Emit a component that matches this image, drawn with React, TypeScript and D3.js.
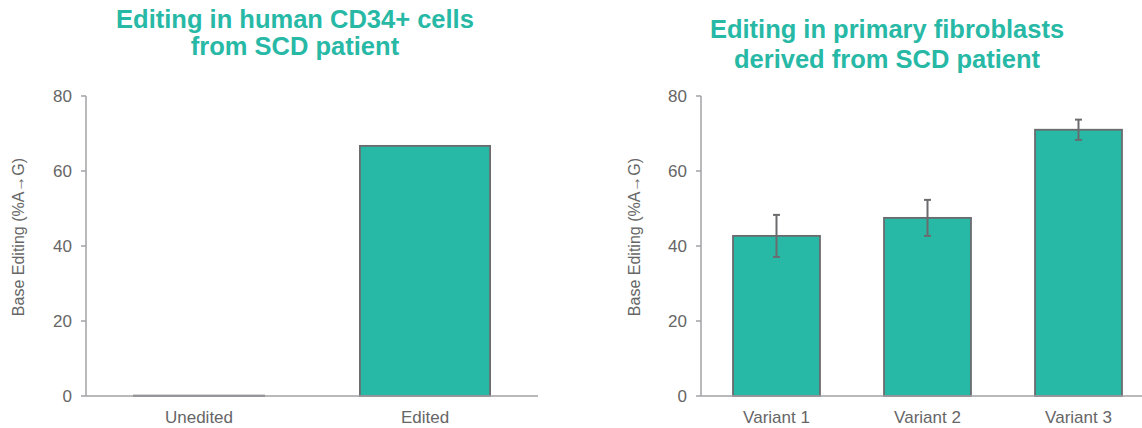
import { useEffect, useRef } from 'react';
import * as d3 from 'd3';

// Left panel: CD34+ cells
const leftCategories = ['Unedited', 'Edited'];
const leftValues = [0.1, 66.7];

// Right panel: primary fibroblasts
const rightCategories = ['Variant 1', 'Variant 2', 'Variant 3'];
const rightValues = [42.7, 47.5, 71.0];
const rightErrors = [5.6, 4.8, 2.7];

const yTicks = [0, 20, 40, 60, 80];
const leftTitle = ['Editing in human CD34+ cells', 'from SCD patient'];
const rightTitle = ['Editing in primary fibroblasts', 'derived from SCD patient'];
const yLabel = 'Base Editing (%A\u2192G)';

const TEAL = '#27b9a6';
const AXIS = '#a2a2a6';
const OUTLINE = '#6b6b6e';
const TEXT = '#666666';
const FONT = '"Liberation Sans", Arial, Helvetica, sans-serif';

export default function App() {
  const ref = useRef<SVGSVGElement>(null);

  useEffect(() => {
    document.body.style.margin = '0';
    if (!ref.current) return;
    const svg = d3.select(ref.current);
    svg.selectAll('*').remove();

    const drawPanel = (
      opts: {
        axisX: number;
        rangeEnd: number;
        baseEnd: number;
        cats: string[];
        vals: number[];
        errs?: number[];
        title: string[];
        titleX: number;
        titleY: number;
        titleGap: number;
        labelX: number;
      }
    ) => {
      const g = svg.append('g');
      const y = d3.scaleLinear().domain([0, 80]).range([396, 96]);
      const x = d3.scaleBand<string>()
        .domain(opts.cats)
        .range([opts.axisX, opts.rangeEnd])
        .paddingInner(0.424)
        .paddingOuter(0.212);

      // Title
      const t = g.append('text')
        .attr('x', opts.titleX)
        .attr('y', opts.titleY)
        .attr('text-anchor', 'middle')
        .attr('font-family', FONT)
        .attr('font-weight', 'bold')
        .attr('font-size', 25.5)
        .attr('fill', TEAL);
      opts.title.forEach((line, i) => {
        t.append('tspan')
          .attr('x', opts.titleX)
          .attr('dy', i === 0 ? 0 : opts.titleGap)
          .text(line);
      });

      // Bars
      g.selectAll('rect.bar')
        .data(opts.vals)
        .enter()
        .append('rect')
        .attr('class', 'bar')
        .attr('x', (_, i) => x(opts.cats[i]) as number)
        .attr('width', x.bandwidth())
        .attr('y', d => y(d))
        .attr('height', d => y(0) - y(d))
        .attr('fill', TEAL)
        .attr('stroke', OUTLINE)
        .attr('stroke-width', 1.8);

      // Error bars
      if (opts.errs) {
        const errs = opts.errs;
        opts.vals.forEach((v, i) => {
          const cx = (x(opts.cats[i]) as number) + x.bandwidth() / 2;
          const top = y(v + errs[i]);
          const bot = y(v - errs[i]);
          g.append('line')
            .attr('x1', cx).attr('x2', cx)
            .attr('y1', top).attr('y2', bot)
            .attr('stroke', OUTLINE).attr('stroke-width', 2);
          [top, bot].forEach(yy => {
            g.append('line')
              .attr('x1', cx - 3.5).attr('x2', cx + 3.5)
              .attr('y1', yy).attr('y2', yy)
              .attr('stroke', OUTLINE).attr('stroke-width', 2);
          });
        });
      }

      // Baseline
      g.append('line')
        .attr('x1', opts.axisX).attr('x2', opts.baseEnd)
        .attr('y1', y(0)).attr('y2', y(0))
        .attr('stroke', AXIS).attr('stroke-width', 1.5);

      // Y axis
      g.append('line')
        .attr('x1', opts.axisX).attr('x2', opts.axisX)
        .attr('y1', y(80)).attr('y2', y(0))
        .attr('stroke', AXIS).attr('stroke-width', 1.5);

      yTicks.forEach(tk => {
        g.append('line')
          .attr('x1', opts.axisX - 5).attr('x2', opts.axisX)
          .attr('y1', y(tk)).attr('y2', y(tk))
          .attr('stroke', AXIS).attr('stroke-width', 1.5);
        g.append('text')
          .attr('x', opts.axisX - 14)
          .attr('y', y(tk))
          .attr('dy', '0.36em')
          .attr('text-anchor', 'end')
          .attr('font-family', FONT)
          .attr('font-size', 17)
          .attr('fill', TEXT)
          .text(tk);
      });

      // X labels
      opts.cats.forEach(c => {
        g.append('text')
          .attr('x', (x(c) as number) + x.bandwidth() / 2)
          .attr('y', 423)
          .attr('text-anchor', 'middle')
          .attr('font-family', FONT)
          .attr('font-size', 17)
          .attr('fill', TEXT)
          .text(c);
      });

      // Y label
      g.append('text')
        .attr('transform', `translate(${opts.labelX},237) rotate(-90)`)
        .attr('text-anchor', 'middle')
        .attr('font-family', FONT)
        .attr('font-size', 16)
        .attr('fill', TEXT)
        .text(yLabel);
    };

    drawPanel({
      axisX: 86,
      rangeEnd: 538,
      baseEnd: 538,
      cats: leftCategories,
      vals: leftValues,
      title: leftTitle,
      titleX: 295,
      titleY: 28,
      titleGap: 27,
      labelX: 24,
    });

    drawPanel({
      axisX: 701,
      rangeEnd: 1154,
      baseEnd: 1154,
      cats: rightCategories,
      vals: rightValues,
      errs: rightErrors,
      title: rightTitle,
      titleX: 887,
      titleY: 38,
      titleGap: 30,
      labelX: 640,
    });
  }, []);

  return <svg ref={ref} width={1142} height={428} style={{ display: 'block' }} />;
}
